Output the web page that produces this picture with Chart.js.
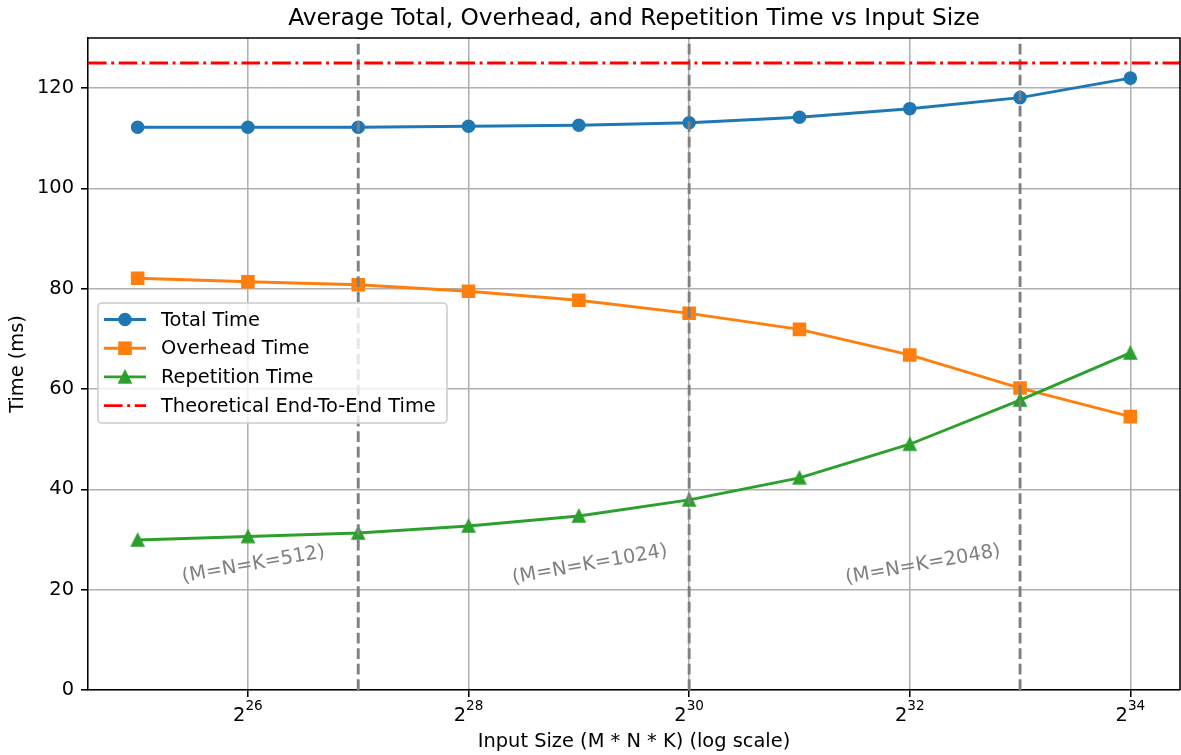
<!DOCTYPE html>
<html>
<head>
<meta charset="utf-8">
<script src="https://cdn.jsdelivr.net/npm/chart.js@4.4.1/dist/chart.umd.min.js"></script>
<style>
  html, body { margin: 0; padding: 0; background: #fff; }
  #wrap { width: 1181px; height: 755px; position: relative; }
</style>
</head>
<body>
<div id="wrap"><canvas id="chart"></canvas></div>
<script>
// values
const exponents = [25, 26, 27, 28, 29, 30, 31, 32, 33, 34];   // input size = 2^e
const totalTime = [112.2, 112.2, 112.2, 112.4, 112.6, 113.1, 114.2, 115.9, 118.1, 122.0];
const overheadTime = [82.1, 81.4, 80.8, 79.5, 77.7, 75.1, 71.9, 66.8, 60.2, 54.5];
const repetitionTime = [29.9, 30.6, 31.3, 32.7, 34.7, 37.9, 42.3, 49.0, 57.8, 67.2];
const theoreticalTime = 125;

// M=N=K boundaries (2^27 = 512^3, 2^30 = 1024^3, 2^33 = 2048^3)
const boundaryExps = [27, 30, 33];
const regionLabels = ['(M=N=K=512)', '(M=N=K=1024)', '(M=N=K=2048)'];
const regionLabelExps = [26.05, 29.1, 32.12];
const regionLabelY = 25;

const xTicks = [26, 28, 30, 32, 34];
const yTicks = [0, 20, 40, 60, 80, 100, 120];

const fontFamily = '"DejaVu Sans", sans-serif';
const blue = '#1f77b4', orange = '#ff7f0e', green = '#2ca02c';

// matplotlib style '^' marker
function makeTriangle(color) {
  const c = document.createElement('canvas');
  c.width = 18; c.height = 18;
  const g = c.getContext('2d');
  const h = 5.85;
  g.beginPath();
  g.moveTo(9, 9 - h); g.lineTo(9 - h, 9 + h); g.lineTo(9 + h, 9 + h); g.closePath();
  g.fillStyle = color; g.fill();
  g.strokeStyle = color; g.lineWidth = 1.9; g.lineJoin = 'miter'; g.stroke();
  return c;
}
const triangle = makeTriangle(green);

function pts(vals) {
  return exponents.map((e, i) => ({ x: e, y: vals[i] }));
}

function series(label, vals, color, style, radius, order) {
  return {
    label: label, data: pts(vals), order: order,
    borderColor: color, backgroundColor: color, borderWidth: 2.9,
    pointStyle: style, pointRadius: radius, pointHoverRadius: radius,
    pointBackgroundColor: color, pointBorderColor: color, pointBorderWidth: 1.9,
    tension: 0
  };
}

const legendItems = [
  { label: 'Total Time', color: blue, marker: 'circle' },
  { label: 'Overhead Time', color: orange, marker: 'square' },
  { label: 'Repetition Time', color: green, marker: 'triangle' },
  { label: 'Theoretical End-To-End Time', color: '#ff0000', marker: null }
];
const dashDot = [18.6, 4.6, 2.9, 4.6];

const extras = {
  id: 'extras',
  afterDatasetsDraw(chart) {
    const { ctx, chartArea: a, scales: { x, y } } = chart;
    ctx.save();
    ctx.beginPath();
    ctx.rect(a.left, a.top, a.right - a.left, a.bottom - a.top);
    ctx.clip();

    // boundary lines
    ctx.strokeStyle = '#808080';
    ctx.lineWidth = 2.9;
    ctx.setLineDash([10.8, 4.7]);
    boundaryExps.forEach(e => {
      const px = x.getPixelForValue(e);
      ctx.beginPath();
      ctx.moveTo(px, a.bottom);
      ctx.lineTo(px, a.top);
      ctx.stroke();
    });

    // theoretical line
    const py = y.getPixelForValue(theoreticalTime);
    ctx.strokeStyle = '#ff0000';
    ctx.setLineDash(dashDot);
    ctx.beginPath();
    ctx.moveTo(a.left, py);
    ctx.lineTo(a.right, py);
    ctx.stroke();
    ctx.setLineDash([]);

    // region labels
    ctx.fillStyle = '#808080';
    ctx.font = '19.4px ' + fontFamily;
    ctx.textAlign = 'center';
    ctx.textBaseline = 'middle';
    regionLabels.forEach((t, i) => {
      ctx.save();
      ctx.translate(x.getPixelForValue(regionLabelExps[i]), y.getPixelForValue(regionLabelY));
      ctx.rotate(-10 * Math.PI / 180);
      ctx.fillText(t, 0, 0);
      ctx.restore();
    });
    ctx.restore();

    // legend
    ctx.save();
    const bx = 98, by = 303, bw = 349, bh = 120, r = 4;
    ctx.beginPath();
    ctx.moveTo(bx + r, by);
    ctx.arcTo(bx + bw, by, bx + bw, by + bh, r);
    ctx.arcTo(bx + bw, by + bh, bx, by + bh, r);
    ctx.arcTo(bx, by + bh, bx, by, r);
    ctx.arcTo(bx, by, bx + bw, by, r);
    ctx.closePath();
    ctx.fillStyle = 'rgba(255,255,255,0.8)';
    ctx.fill();
    ctx.strokeStyle = '#cccccc';
    ctx.lineWidth = 1.56;
    ctx.stroke();

    ctx.font = '19.4px ' + fontFamily;
    ctx.textAlign = 'left';
    ctx.textBaseline = 'middle';
    legendItems.forEach((it, i) => {
      const ry = 319.5 + i * 28.7;
      ctx.strokeStyle = it.color;
      ctx.lineWidth = 2.9;
      ctx.setLineDash(it.marker ? [] : dashDot);
      ctx.beginPath();
      ctx.moveTo(104, ry);
      ctx.lineTo(146, ry);
      ctx.stroke();
      ctx.setLineDash([]);
      ctx.fillStyle = it.color;
      ctx.lineWidth = 1.9;
      if (it.marker === 'circle') {
        ctx.beginPath();
        ctx.arc(125, ry, 5.85, 0, Math.PI * 2);
        ctx.fill(); ctx.stroke();
      } else if (it.marker === 'square') {
        ctx.fillRect(125 - 5.85, ry - 5.85, 11.7, 11.7);
        ctx.strokeRect(125 - 5.85, ry - 5.85, 11.7, 11.7);
      } else if (it.marker === 'triangle') {
        ctx.drawImage(triangle, 125 - 9, ry - 9);
      }
      ctx.fillStyle = '#000';
      ctx.fillText(it.label, 161, ry + 1);
    });
    ctx.restore();
  },
  afterDraw(chart) {
    const { ctx, chartArea: a, scales: { x } } = chart;
    ctx.save();
    // top and right spines
    ctx.strokeStyle = '#000';
    ctx.lineWidth = 1.56;
    ctx.beginPath();
    ctx.moveTo(a.left, a.top);
    ctx.lineTo(a.right, a.top);
    ctx.lineTo(a.right, a.bottom);
    ctx.stroke();

    // x tick labels as 2^n
    ctx.fillStyle = '#000';
    ctx.textAlign = 'left';
    ctx.textBaseline = 'alphabetic';
    xTicks.forEach(v => {
      const px = x.getPixelForValue(v);
      ctx.font = '19.4px ' + fontFamily;
      const wb = ctx.measureText('2').width;
      ctx.font = '13.6px ' + fontFamily;
      const we = ctx.measureText(String(v)).width;
      const left = px - (wb + we) / 2;
      ctx.font = '19.4px ' + fontFamily;
      ctx.fillText('2', left, 721);
      ctx.font = '13.6px ' + fontFamily;
      ctx.fillText(String(v), left + wb, 710);
    });
    ctx.restore();
  }
};

const gridOpts = { color: '#b0b0b0', lineWidth: 1.56, tickLength: 7, tickColor: '#000', tickWidth: 1.56 };
const borderOpts = { color: '#000', width: 1.56 };

new Chart(document.getElementById('chart').getContext('2d'), {
  type: 'line',
  data: {
    datasets: [
      series('Total Time', totalTime, blue, 'circle', 5.85, 2),
      series('Overhead Time', overheadTime, orange, 'rect', 8.27, 1),
      series('Repetition Time', repetitionTime, green, triangle, 6, 0)
    ]
  },
  options: {
    responsive: true,
    maintainAspectRatio: false,
    animation: false,
    events: [],
    layout: { autoPadding: false, padding: { left: 0, right: 1, top: 0, bottom: 0 } },
    plugins: {
      legend: { display: false },
      tooltip: { enabled: false },
      title: {
        display: true,
        fullSize: false,
        text: 'Average Total, Overhead, and Repetition Time vs Input Size',
        color: '#000',
        font: { family: fontFamily, size: 23.3, weight: 'normal' },
        padding: { top: 5, bottom: 5 }
      }
    },
    scales: {
      x: {
        type: 'linear',
        min: 24.55,
        max: 34.45,
        afterFit: s => { s.height = 65; s.paddingLeft = 0; s.paddingRight = 0; },
        afterBuildTicks: s => { s.ticks = xTicks.map(v => ({ value: v })); },
        ticks: { callback: () => '', padding: 7 },
        grid: gridOpts,
        border: borderOpts,
        title: {
          display: true,
          text: 'Input Size (M * N * K) (log scale)',
          color: '#000',
          font: { family: fontFamily, size: 19.4 },
          padding: { top: 0, bottom: 1 }
        }
      },
      y: {
        min: 0,
        max: 130,
        afterFit: s => { s.width = 88; s.paddingTop = 0; s.paddingBottom = 0; },
        afterBuildTicks: s => { s.ticks = yTicks.map(v => ({ value: v })); },
        ticks: { color: '#000', font: { family: fontFamily, size: 19.4 }, padding: 7 },
        grid: gridOpts,
        border: borderOpts,
        title: {
          display: true,
          text: 'Time (ms)',
          color: '#000',
          font: { family: fontFamily, size: 19.4 },
          padding: { top: 6, bottom: 0 }
        }
      }
    }
  },
  plugins: [extras]
});
</script>
</body>
</html>
